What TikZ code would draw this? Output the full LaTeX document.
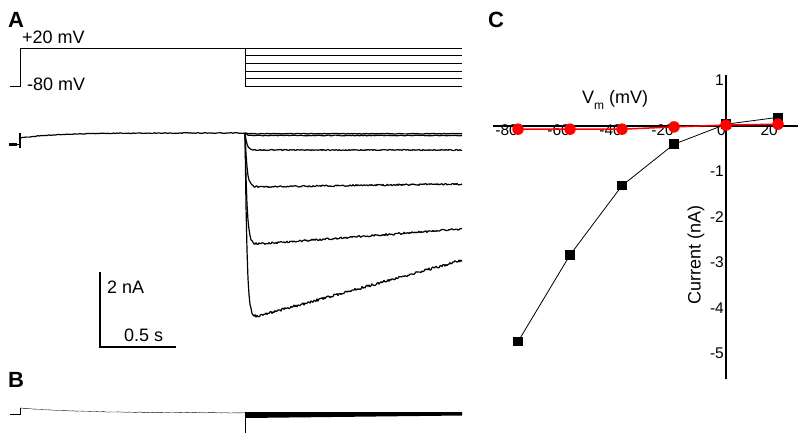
\documentclass[tikz,border=0pt]{standalone}
\usepackage{fontspec}
\setmainfont{Liberation Sans}
\begin{document}
\begin{tikzpicture}[x=1pt, y=-1pt,
  lab/.style={font=\fontsize{22}{24}\selectfont\bfseries, anchor=base west, inner sep=0pt},
  txt/.style={font=\fontsize{18}{20}\selectfont, anchor=base west, inner sep=0pt},
  ticklab/.style={font=\fontsize{15.5}{17}\selectfont, inner sep=0pt},
  trace/.style={line width=1.2pt, line join=round},
  sq/.style={fill=black, minimum size=9.5pt, inner sep=0pt},
  dot/.style={circle, fill=red, minimum size=11.5pt, inner sep=0pt}]
\useasboundingbox (0,0) rectangle (799,434);
\pgfmathsetseed{11}
\node[lab] (labA) at (8,27) {A};
\node[txt] (vtop) at (22,43) {+20 mV};
\node[txt] (vbot) at (27,90) {-80 mV};
\draw (10,86) -- (20,86) -- (20,48) -- (462,48);
\draw (245,48) -- (245,86);
\foreach \y in {55.5,63,70.8,78.5,86} \draw (245,\y) -- (462,\y);
\draw[line width=3.5pt] (9,144.5) -- (17,144.5);
\draw[trace] (17,144.5) -- (20,144.5);
\draw[trace] (20,133) -- (20,148);
\draw[trace] plot[domain=20:245, samples=150] (\x, {133+5*exp(-(\x-20)/35)+0.35*rand});
\foreach \d/\s/\n in {0.7/0/0.35, 2.5/0/0.4, 17/0/0.5, 54/0.014/0.8, 112/0.074/1, 187/0.276/1.3}
  \draw[trace] plot[domain=245:462, samples=218] (\x, {133+\d*(1-exp(-min(\x-245,40)/2))-\s*(\x-245)+\n*rand});
\draw[line width=1.2pt] (100,272) -- (100,347) -- (176,347);
\node[txt] (nA) at (107,293) {2 nA};
\node[txt] (sec) at (124,341) {0.5 s};
\node[lab] (labB) at (8,387) {B};
\draw (10,414) -- (20,414) -- (20,408);
\draw plot[domain=20:245, samples=120] (\x, {413-5*exp(-(\x-20)/60)+0.2*rand});
\draw (245,412) -- (245,433);
\fill (245,412) -- (462,412) -- (462,415.5) -- (245,418) -- cycle;
\node[lab] (labC) at (488,27) {C};
\node[txt] (vm) at (582,103) {V\raisebox{-6pt}{\fontsize{12}{12}\selectfont m} (mV)};
\node[txt, rotate=90, anchor=center] (cur) at (696,255) {Current (nA)};
\begin{scope}[shift={(726,126)}, x=2.6pt, y=45.5pt]
\draw[line width=2pt] (-89.6,0) -- (27.7,0);
\draw[line width=2pt] (0,1.12) -- (0,-5.56);
\foreach \v in {-80,-60,-40,-20,0,20} \node[ticklab, anchor=north east] (xt\v) at (\v,0.044) {\v};
\foreach \v in {1,-1,-2,-3,-4,-5} \node[ticklab, anchor=east] (yt\v) at (-0.77,\v) {\v};
\foreach \v/\i in {-80/-4.74,-60/-2.835,-40/-1.31,-20/-0.40,0/0.04,20/0.19} \coordinate (s\v) at (\v,\i);
\draw[line width=0.8pt] (s-80) -- (s-60) -- (s-40) -- (s-20) -- (s0) -- (s20);
\foreach \v in {-80,-60,-40,-20,0,20} \node[sq] (sq\v) at (s\v) {};
\foreach \v/\i in {-80/-0.07,-60/-0.07,-40/-0.07,-20/-0.02,0/0.02,20/0.04} \coordinate (r\v) at (\v,\i);
\draw[red, line width=1.5pt] (r-80) -- (r-60) -- (r-40) -- (r-20) -- (r0) -- (r20);
\foreach \v in {-80,-60,-40,-20,0,20} \node[dot] (dot\v) at (r\v) {};
\end{scope}
\end{tikzpicture}
\end{document}
